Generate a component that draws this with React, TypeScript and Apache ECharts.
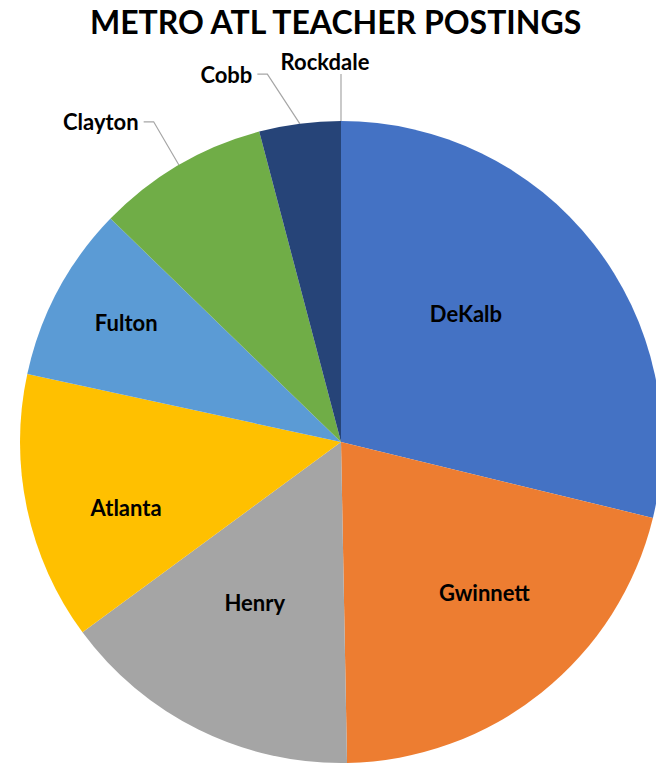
import React, { useEffect, useRef } from "react";
import * as echarts from "echarts";

const chartTitle = "METRO ATL TEACHER POSTINGS";
const categories = ["DeKalb", "Gwinnett", "Henry", "Atlanta", "Fulton", "Clayton", "Cobb", "Rockdale"];
const postings = [28.8, 20.9, 15.2, 13.5, 8.85, 8.65, 4.1, 0];
const sliceColors = ["#4472C4", "#ED7D31", "#A5A5A5", "#FFC000", "#5B9BD5", "#70AD47", "#264478", "#9E480E"];
const insideLabels = ["DeKalb", "Gwinnett", "Henry", "Atlanta", "Fulton"];
// leader line lengths [radial, horizontal] for labels drawn outside
const leaderLengths: Record<string, [number, number]> = {
  Clayton: [50, 10],
  Cobb: [50, 36],
  Rockdale: [47, 1],
};
// small nudges of the inside labels (best-fit placement)
const labelNudge: Record<string, [number, number]> = {
  DeKalb: [-39, 0],
  Gwinnett: [13, -12],
  Henry: [6, -26],
  Atlanta: [-11, 22],
  Fulton: [-31, -21],
};

const FONT = "Lato";
const CENTER = [341, 442];
const RADIUS = 321;

export default function App() {
  const ref = useRef<HTMLDivElement>(null);

  useEffect(() => {
    if (!ref.current) return;
    const chart = echarts.init(ref.current, undefined, { renderer: "svg" });

    const labelText = {
      color: "#000",
      fontFamily: FONT,
      fontWeight: "bold" as const,
      fontSize: 22,
    };

    const mainData = categories.map((name, i) => {
      const inside = insideLabels.includes(name);
      const ll = leaderLengths[name] || [15, 15];
      return {
        name,
        value: postings[i],
        itemStyle: { color: sliceColors[i] },
        label: { show: !inside },
        labelLine: { show: !inside, length: ll[0], length2: ll[1] },
      };
    });

    const overlayData = categories.map((name, i) => ({
      name,
      value: postings[i],
      label: { show: insideLabels.includes(name) },
    }));

    chart.setOption({
      animation: false,
      title: {
        text: chartTitle,
        left: "50.4%",
        textAlign: "center",
        top: 0,
        textStyle: { fontFamily: FONT, fontWeight: "bold", fontSize: 32, color: "#000" },
      },
      series: [
        {
          type: "pie",
          center: CENTER,
          radius: [0, RADIUS],
          startAngle: 90,
          clockwise: true,
          avoidLabelOverlap: false,
          itemStyle: { borderWidth: 0 },
          label: { ...labelText, position: "outside", distanceToLabelLine: 5 },
          labelLine: {
            lineStyle: { color: "#A6A6A6", width: 1.2 },
            minTurnAngle: 0,
            maxSurfaceAngle: 180,
          },
          emphasis: { disabled: true },
          labelLayout: (p: any) => {
            const name = categories[p.dataIndex];
            const pts = p.labelLinePoints;
            if (!pts || pts.length < 2) return {};
            if (name === "Rockdale") {
              return {
                x: pts[1][0] - 16,
                y: pts[1][1] - 2,
                align: "center",
                verticalAlign: "bottom",
                labelLinePoints: [pts[0], pts[1]],
              };
            }
            if (name === "Cobb" && pts.length > 2) {
              return {
                labelLinePoints: [pts[0], [pts[2][0] + 10, pts[2][1]], pts[2]],
              };
            }
            return {};
          },
          data: mainData,
        },
        {
          type: "pie",
          center: CENTER,
          radius: [90, RADIUS],
          startAngle: 90,
          clockwise: true,
          silent: true,
          avoidLabelOverlap: false,
          itemStyle: { color: "rgba(0,0,0,0)", borderWidth: 0 },
          label: { ...labelText, position: "inside" },
          labelLine: { show: false },
          emphasis: { disabled: true },
          labelLayout: (p: any) => {
            const n = labelNudge[categories[p.dataIndex]];
            return n ? { dx: n[0], dy: n[1] } : {};
          },
          data: overlayData,
        },
      ],
    });

    return () => chart.dispose();
  }, []);

  return (
    <div
      ref={ref}
      style={{ position: "fixed", left: 0, top: 0, width: 656, height: 765, background: "#fff" }}
    />
  );
}
